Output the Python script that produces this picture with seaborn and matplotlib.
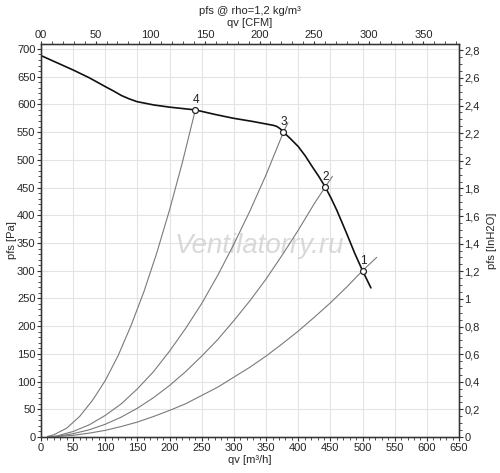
import numpy as np
import pandas as pd
import matplotlib
matplotlib.use("Agg")
import matplotlib.pyplot as plt
import seaborn as sns
from matplotlib.ticker import MultipleLocator, FuncFormatter

# --- data ---
fan_qv = [0, 25, 50, 75, 100, 113, 125, 137, 149, 162, 175, 200, 240, 270, 299,
          330, 353, 362, 367, 372, 377, 388, 400, 411, 421, 432, 442, 451, 460, 475,
          488, 500, 513]
fan_pfs = [688, 675, 662, 648, 632, 624, 616, 610, 605, 602, 599, 595, 590, 582, 575,
           569, 564, 562, 560, 556, 550, 538, 524, 507, 489, 470, 451, 431, 409, 368,
           331, 300, 269]

sys1_qv = [10, 50, 75, 100, 125, 150, 175, 200, 225, 250, 275, 300, 325, 350, 375,
           400, 425, 450, 475, 500, 522]
sys1_pfs = [0, 3, 7, 12, 19, 27, 37, 48, 60, 75, 90, 108, 126, 146, 168,
            191, 216, 242, 270, 300, 324]
sys2_qv = [10, 25, 50, 75, 100, 125, 150, 175, 200, 225, 250, 275, 300, 325, 350,
           375, 400, 425, 442, 453]
sys2_pfs = [0, 1, 6, 13, 23, 36, 52, 71, 93, 118, 146, 176, 210, 246, 285,
            328, 373, 421, 451, 470]
sys3_qv = [10, 25, 50, 75, 100, 125, 150, 175, 200, 225, 250, 275, 300, 325, 350, 377, 384]
sys3_pfs = [0, 2, 10, 22, 39, 60, 87, 118, 155, 196, 241, 292, 348, 408, 473, 550, 567]
sys4_qv = [10, 20, 40, 60, 80, 100, 120, 140, 160, 180, 200, 220, 240]
sys4_pfs = [1, 4, 16, 37, 66, 102, 147, 201, 262, 332, 410, 496, 590]

op_names = ["1", "2", "3", "4"]
op_qv = [500, 442, 377, 240]
op_pfs = [300, 451, 550, 590]

PA_PER_INH2O = 249.09
M3H_PER_CFM = 1.699
FS = 8

sns.set_style("white")
plt.rcParams['font.family'] = ['Liberation Sans', 'DejaVu Sans']

fig = plt.figure(figsize=(5, 4.73), dpi=100)
ax = fig.add_axes([0.082, 0.0761, 0.836, 0.831])

ax.set_xlim(0, 650)
ax.set_ylim(0, 709)
ax.xaxis.set_major_locator(MultipleLocator(50))
ax.xaxis.set_minor_locator(MultipleLocator(10))
ax.yaxis.set_major_locator(MultipleLocator(50))
ax.yaxis.set_minor_locator(MultipleLocator(10))
ax.grid(True, which="major", color="#e3e3e3", lw=0.8)
ax.set_axisbelow(True)

for q, p in [(sys1_qv, sys1_pfs), (sys2_qv, sys2_pfs), (sys3_qv, sys3_pfs), (sys4_qv, sys4_pfs)]:
    df = pd.DataFrame({"qv": q, "pfs": p})
    sns.lineplot(data=df, x="qv", y="pfs", ax=ax, color="#7a7a7a", lw=0.8, sort=False)

fan = pd.DataFrame({"qv": fan_qv, "pfs": fan_pfs})
sns.lineplot(data=fan, x="qv", y="pfs", ax=ax, color="#111111", lw=1.2, sort=False)

ops = pd.DataFrame({"qv": op_qv, "pfs": op_pfs})
sns.scatterplot(data=ops, x="qv", y="pfs", ax=ax, s=18, facecolor="white",
                edgecolor="#222222", linewidth=0.9, zorder=5)
for n, q, p in zip(op_names, op_qv, op_pfs):
    ax.text(q + 1, p + 7, n, fontsize=8.5, ha="center", va="bottom", color="#222222")

ax.text(340, 345, "Ventilatorry.ru", fontsize=20, style="italic", color="#d0d0d0",
        ha="center", va="center", alpha=0.8, zorder=1)

for s in ax.spines.values():
    s.set_color("#333333")
    s.set_linewidth(1.0)

ax.tick_params(axis="both", which="major", length=3, width=0.8, labelsize=FS, color="#333333", pad=1)
ax.tick_params(axis="both", which="minor", length=2, width=0.6, color="#333333")
ax.set_xlabel("qv [m³/h]", fontsize=FS)
ax.set_ylabel("pfs [Pa]", fontsize=FS)
ax.xaxis.set_label_coords(0.5, -0.046)
ax.yaxis.set_label_coords(-0.058, 0.5)

# right axis in inH2O
ax_r = ax.twinx()
ax_r.set_ylim(0, 709 / PA_PER_INH2O)
ax_r.yaxis.set_major_locator(MultipleLocator(0.2))
ax_r.yaxis.set_minor_locator(MultipleLocator(0.05))
ax_r.yaxis.set_major_formatter(FuncFormatter(lambda v, _: ("%g" % round(v, 1)).replace(".", ",")))
ax_r.tick_params(axis="y", which="major", length=3, width=0.8, labelsize=FS, color="#333333", pad=1)
ax_r.tick_params(axis="y", which="minor", length=2, width=0.6, color="#333333")
ax_r.set_ylabel("pfs [InH2O]", fontsize=FS)
ax_r.yaxis.set_label_coords(1.068, 0.5)
ax_r.grid(False)

# top axis in CFM
ax_t = ax.twiny()
ax_t.set_xlim(0, 650 / M3H_PER_CFM)
ax_t.xaxis.set_major_locator(MultipleLocator(50))
ax_t.xaxis.set_minor_locator(MultipleLocator(10))
ax_t.xaxis.set_major_formatter(FuncFormatter(lambda v, _: "00" if v == 0 else "%d" % v))
ax_t.tick_params(axis="x", which="major", length=2, width=0.8, labelsize=FS, color="#333333", pad=0.5)
ax_t.tick_params(axis="x", which="minor", length=2, width=0.6, color="#333333")
ax_t.set_xlabel("qv [CFM]", fontsize=FS)
ax_t.xaxis.set_label_coords(0.5, 1.046)
ax_t.grid(False)
for a in (ax_r, ax_t):
    for s in a.spines.values():
        s.set_color("#333333")

fig.text(0.5, 0.977, "pfs @ rho=1,2 kg/m³", fontsize=FS, ha="center", va="center")

fig.savefig("out.png", dpi=100)
